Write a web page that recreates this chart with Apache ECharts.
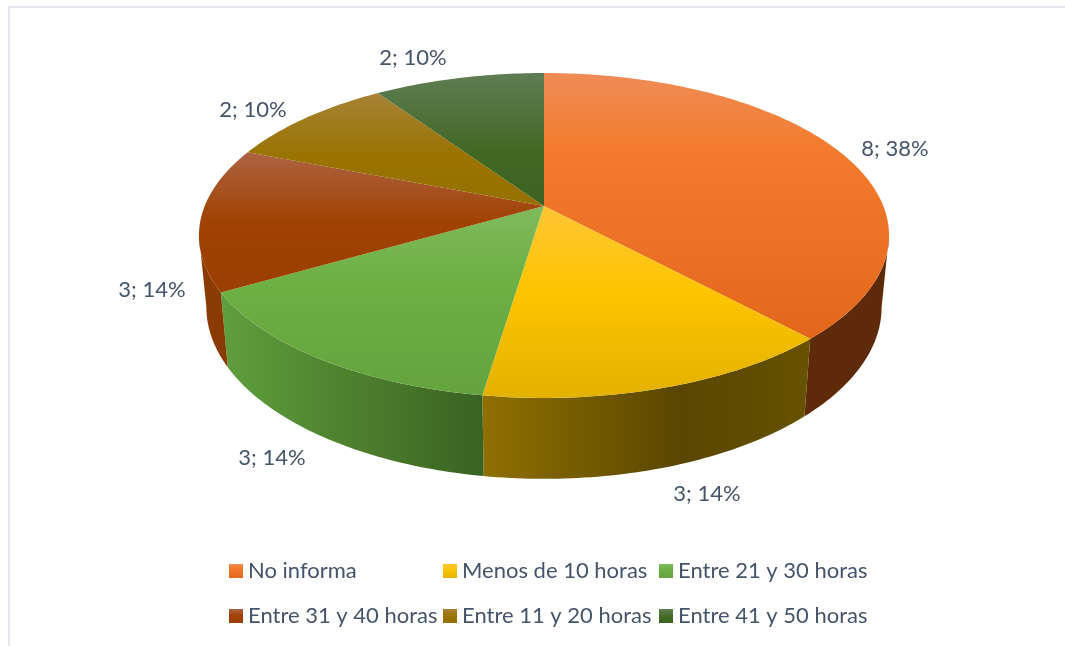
<!DOCTYPE html>
<html><head><meta charset="utf-8">
<style>html,body{margin:0;padding:0;background:#fff}#c{width:1065px;height:646px}</style>
<script src="https://cdn.jsdelivr.net/npm/echarts@6/dist/echarts.min.js"></script>
</head><body><div id="c"></div>
<script>
const categories = ['No informa','Menos de 10 horas','Entre 21 y 30 horas','Entre 31 y 40 horas','Entre 11 y 20 horas','Entre 41 y 50 horas'];
const values = [8,3,3,3,2,2];

const topStops = [
  [[0,'#EE8C55'],[0.3,'#F37B2C'],[1,'#E3671B']],
  [[0,'#FFC535'],[0.45,'#FDC500'],[1,'#E3B100']],
  [[0,'#80BA5C'],[0.4,'#6DB043'],[1,'#64A33E']],
  [[0,'#AE6342'],[0.5,'#9F4202'],[1,'#9A3F02']],
  [[0,'#A68337'],[0.55,'#9A7300'],[1,'#967000']],
  [[0,'#5F7D53'],[0.6,'#416823'],[1,'#3D6222']]
];
const wallStops = [
  [[0,'#5E2A09'],[1,'#5E2A09']],
  [[0,'#8F7000'],[0.6,'#5A4600'],[1,'#665200']],
  [[0,'#5F9F3E'],[0.45,'#4F832F'],[1,'#3A6222']],
  [[0,'#8A3A03'],[1,'#8A3A03']],
  [[0,'#6B5000'],[1,'#6B5000']],
  [[0,'#2D4A1A'],[1,'#2D4A1A']]
];
const labelCenters = [[895,149],[707,494],[272,458],[152,290],[253,110],[413,58]];

const total = values.reduce((a,b)=>a+b,0);
const starts = values.map((_,i)=>values.slice(0,i).reduce((a,b)=>a+b,0));

const PERSP = 0.1815;
const topPlane = {cx:544, cy:206, rx:339.3, ry:157.1};
const lowPlane = {cx:544, cy:276, rx:332, ry:166};
const SIDE_R = Math.acos(-PERSP), SIDE_L = 2*Math.PI - SIDE_R;
function project(p, a){
  const u = Math.sin(a), v = -Math.cos(a), d = 1 - PERSP*v;
  return [p.cx + p.rx*u/d, p.cy + p.ry*v/d];
}
function rim(p, a0, a1){
  const n = Math.max(6, Math.ceil((a1-a0)*60)), pts = [];
  for(let i=0;i<=n;i++) pts.push(project(p, a0+(a1-a0)*i/n));
  return pts;
}
const grad = (stops, horizontal) => ({
  type:'linear', x:0, y:0, x2:horizontal?1:0, y2:horizontal?0:1,
  colorStops: stops.map(s=>({offset:s[0], color:s[1]}))
});

const series = categories.map((name,i)=>({
  type:'custom', name, coordinateSystem:'none', silent:true,
  itemStyle:{color:topStops[i][1][1]},
  data:[[values[i], starts[i]]],
  renderItem(params, api){
    const v = api.value(0), s = api.value(1);
    const a0 = s/total*2*Math.PI, a1 = (s+v)/total*2*Math.PI;
    const w0 = Math.max(a0,SIDE_R), w1 = Math.min(a1,SIDE_L);
    const tr = rim(topPlane,a0,a1);
    const apex = [topPlane.cx, topPlane.cy];
    const children = [];
    if(w1 > w0){
      const wt = rim(topPlane,w0,w1), wl = rim(lowPlane,w0,w1);
      children.push({type:'polygon', z2:1, shape:{points:wt.concat(wl.reverse())},
        style:{fill:grad(wallStops[i],true)}});
    }
    children.push(
      {type:'polygon', z2:5, shape:{points:[apex].concat(tr)},
       style:{fill:grad(topStops[i],false)}},
      {type:'text', z2:9, style:{
        text:v+'; '+Math.round(v/total*100)+'%',
        x:labelCenters[i][0], y:labelCenters[i][1],
        align:'center', verticalAlign:'middle',
        fill:'#44546A', font:'22px Lato'}}
    );
    return {type:'group', children};
  }
}));

const legendCol = (idx,left)=>({
  orient:'vertical', left, top:555, itemWidth:14, itemHeight:14, itemGap:23,
  icon:'rect', selectedMode:false,
  textStyle:{color:'#44546A', fontFamily:'Lato', fontSize:22},
  data:idx.map(i=>({name:categories[i], itemStyle:{color:grad(topStops[i],false)}}))
});

const chart = echarts.init(document.getElementById('c'),null,{renderer:'canvas'});
chart.setOption({
  animation:false, backgroundColor:'#fff',
  legend:[legendCol([0,3],224),legendCol([1,4],438),legendCol([2,5],654)],
  graphic:[
    {type:'line',silent:true,shape:{x1:9,y1:7,x2:1065,y2:7},style:{stroke:'#E4E8EE',lineWidth:2}},
    {type:'line',silent:true,shape:{x1:9,y1:6,x2:9,y2:646},style:{stroke:'#E4E8EE',lineWidth:2}}
  ],
  series
});
</script></body></html>
